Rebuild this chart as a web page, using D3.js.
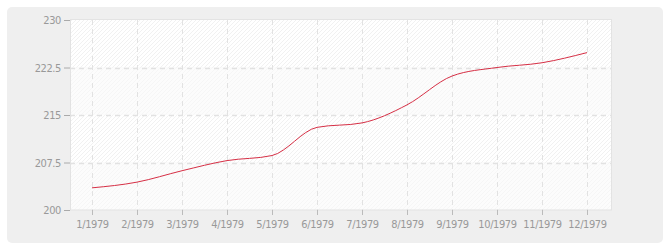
<!DOCTYPE html>
<html><head><meta charset="utf-8">
<script src="https://cdn.jsdelivr.net/npm/d3@7"></script>
<style>
html,body{margin:0;padding:0;background:#fff;}
svg{display:block;}
</style></head>
<body>
<svg id="c" width="670" height="250"></svg>
<script>
const categories = ["1/1979","2/1979","3/1979","4/1979","5/1979","6/1979","7/1979","8/1979","9/1979","10/1979","11/1979","12/1979"];
const values = [203.5,204.4,206.2,207.8,208.6,213.05,213.75,216.6,221.15,222.5,223.25,224.85];
const yTicks = [200,207.5,215,222.5,230];
const yTickLabels = ["200","207.5","215","222.5","230"];

const FONT = "'DejaVu Sans Condensed','DejaVu Sans',sans-serif";
const FS = "11px";
const LS = "-0.4px";

const svg = d3.select("#c");
const M = {left:70, right:611, top:20, bottom:210};

const defs = svg.append("defs");
function hatch(id, bg, lineCol){
  const p = defs.append("pattern").attr("id",id).attr("patternUnits","userSpaceOnUse")
    .attr("width",4).attr("height",4);
  p.append("rect").attr("width",4).attr("height",4).attr("fill",bg);
  p.append("path").attr("d","M-1,1 l2,-2 M0,4 l4,-4 M3,5 l2,-2")
    .attr("stroke",lineCol).attr("stroke-width",1);
}
hatch("h1","#ffffff","#f1f1f1");
hatch("h2","#fcfcfc","#f6f6f6");

svg.append("rect").attr("x",7).attr("y",7).attr("width",656).attr("height",236)
  .attr("rx",5).attr("fill","#efefef");

const x = d3.scalePoint().domain(categories).range([92,587]);
const y = d3.scaleLinear().domain([200,230]).range([M.bottom,M.top]);

// plot background bands
const bands = d3.pairs(yTicks);
svg.append("g").selectAll("rect").data(bands).join("rect")
  .attr("x",M.left).attr("width",M.right-M.left)
  .attr("y",d=>y(d[1])).attr("height",d=>y(d[0])-y(d[1]))
  .attr("fill",(d,i)=> i%2===1 ? "url(#h1)" : "url(#h2)");

// border
svg.append("rect").attr("x",M.left+0.5).attr("y",M.top-0.5)
  .attr("width",M.right-M.left).attr("height",M.bottom-M.top+0.5)
  .attr("fill","none").attr("stroke","#e3e3e3");

// grid
const grid = svg.append("g").attr("stroke","#e2e2e2").attr("stroke-dasharray","5,4");
grid.selectAll("line.h").data(yTicks.slice(1,-1)).join("line")
  .attr("x1",M.left).attr("x2",M.right)
  .attr("y1",d=>Math.round(y(d))+0.5).attr("y2",d=>Math.round(y(d))+0.5)
  .attr("stroke-width",1.5);
grid.selectAll("line.v").data(categories).join("line")
  .attr("x1",d=>x(d)+0.5).attr("x2",d=>x(d)+0.5)
  .attr("y1",M.top).attr("y2",M.bottom);
grid.append("line").attr("x1",M.left+0.5).attr("x2",M.left+0.5).attr("y1",M.top).attr("y2",M.bottom);

// axes
const yAxis = d3.axisLeft(y).tickValues(yTicks).tickFormat((d,i)=>yTickLabels[i]).tickSize(6).tickPadding(3);
const gy = svg.append("g").attr("transform",`translate(${M.left},0)`).call(yAxis);
gy.select(".domain").remove();
gy.selectAll("line").attr("stroke","#aaa");
gy.selectAll("text").attr("fill","#999").style("font-size",FS).style("font-family",FONT).style("letter-spacing",LS);

const xAxis = d3.axisBottom(x).tickSize(5).tickPadding(5);
const gx = svg.append("g").attr("transform",`translate(0,${M.bottom})`).call(xAxis);
gx.select(".domain").remove();
gx.selectAll("line").attr("stroke","#bbb");
gx.selectAll("text").attr("fill","#999").style("font-size",FS).style("font-family",FONT).style("letter-spacing",LS);

// line
const line = d3.line().x((d,i)=>x(categories[i])).y(d=>y(d)).curve(d3.curveMonotoneX);
svg.append("path").datum(values).attr("d",line)
  .attr("fill","none").attr("stroke","#d62f45").attr("stroke-width",1);
</script>
</body></html>
